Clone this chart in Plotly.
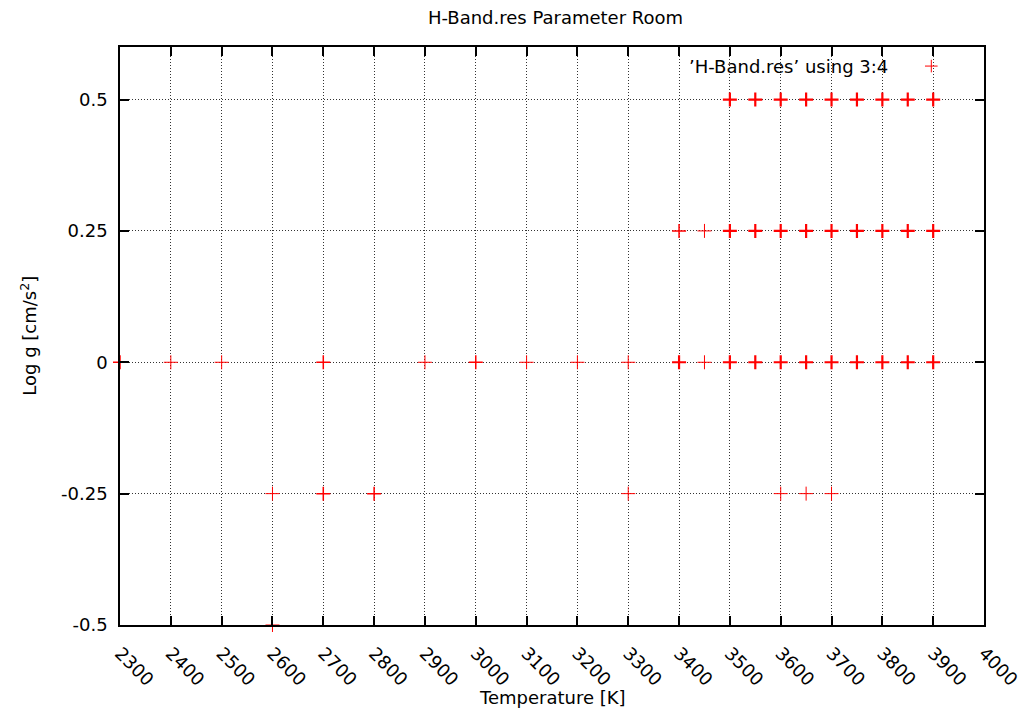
import plotly.graph_objects as go

# Model grid points: effective temperature [K] and surface gravity (log g)
temperature = [
    2300, 2400, 2500, 2700, 2900, 3000, 3100, 3200, 3300, 3400, 3450,
    3500, 3550, 3600, 3650, 3700, 3750, 3800, 3850, 3900,
    3400, 3450, 3500, 3550, 3600, 3650, 3700, 3750, 3800, 3850, 3900,
    3500, 3550, 3600, 3650, 3700, 3750, 3800, 3850, 3900,
    2600, 2700, 2800, 3300, 3600, 3650, 3700,
    2600,
]
log_g = [
    0, 0, 0, 0, 0, 0, 0, 0, 0, 0, 0,
    0, 0, 0, 0, 0, 0, 0, 0, 0,
    0.25, 0.25, 0.25, 0.25, 0.25, 0.25, 0.25, 0.25, 0.25, 0.25, 0.25,
    0.5, 0.5, 0.5, 0.5, 0.5, 0.5, 0.5, 0.5, 0.5,
    -0.25, -0.25, -0.25, -0.25, -0.25, -0.25, -0.25,
    -0.5,
]
# how many result rows fall on the same grid point (overplotted)
n_rows = [
    2, 1, 1, 2, 1, 2, 1, 1, 1, 3, 1,
    3, 3, 3, 3, 3, 3, 3, 3, 3,
    2, 1, 3, 3, 3, 3, 3, 3, 3, 3, 3,
    3, 3, 3, 3, 3, 3, 3, 3, 3,
    1, 2, 2, 1, 1, 1, 1,
    1,
]

x_ticks = list(range(2300, 4001, 100))
y_ticks = [-0.5, -0.25, 0, 0.25, 0.5]
y_ticklabels = ["-0.5", "-0.25", "0", "0.25", "0.5"]

series_name = "\u2019H-Band.res\u2019 using 3:4"
title_text = "H-Band.res Parameter Room"
x_title = "Temperature [K]"
y_title = "Log g [cm/s<sup>2</sup>]"

RED = "#ff0000"
FONT = "DejaVu Sans"
FS = 18
width_for_rows = {1: 1.0, 2: 1.5, 3: 2.2}

fig = go.Figure()

fig.add_trace(go.Scatter(
    x=temperature, y=log_g, mode="markers", name=series_name,
    cliponaxis=False, showlegend=False,
    marker=dict(symbol="cross-thin", size=10, color=RED,
                line=dict(color=RED, width=[width_for_rows[n] for n in n_rows])),
))

# key sample drawn on a hidden overlay axis in plot-fraction units
fig.add_trace(go.Scatter(
    x=[0.939], y=[0.967], mode="markers", xaxis="x2", yaxis="y2",
    showlegend=False, hoverinfo="skip",
    marker=dict(symbol="cross-thin", size=9, color=RED,
                line=dict(color=RED, width=1)),
))

axis_common = dict(
    showline=True, linecolor="black", linewidth=1.5, mirror="ticks",
    ticks="inside", ticklen=9, tickwidth=1.5, tickcolor="black",
    showgrid=True, gridcolor="#333333", gridwidth=1, griddash="1px,2px",
    zeroline=False, tickfont=dict(family=FONT, size=FS, color="black"),
)

fig.update_layout(
    width=1034, height=716,
    margin=dict(l=120, r=43, t=47, b=91),
    paper_bgcolor="white", plot_bgcolor="white",
    font=dict(family=FONT, size=FS, color="black"),
    title=dict(text=title_text, x=555.5 / 1034, xanchor="center",
               y=1 - 18 / 716, yanchor="middle", yref="container",
               font=dict(family=FONT, size=FS, color="black")),
    xaxis=dict(range=[2300, 4000], tickvals=x_ticks, tickangle=45,
               ticklabelstandoff=9, **axis_common),
    yaxis=dict(range=[-0.5, 0.6], tickvals=y_ticks, ticktext=y_ticklabels,
               ticklabelstandoff=7, **axis_common),
    xaxis2=dict(range=[0, 1], overlaying="x", visible=False, fixedrange=True),
    yaxis2=dict(range=[0, 1], overlaying="y", visible=False, fixedrange=True),
    shapes=[
        # key area keeps the grid clear behind the label
        dict(type="rect", xref="paper", yref="paper", x0=0.562, x1=0.999,
             y0=0.951, y1=0.999, fillcolor="white", line=dict(width=0),
             layer="between"),
    ],
    annotations=[
        dict(text=series_name, xref="paper", yref="paper",
             x=(896 - 120) / 871, y=0.967, xanchor="right", yanchor="middle",
             showarrow=False, font=dict(family=FONT, size=FS, color="black")),
        dict(text=x_title, xref="paper", yref="paper", x=0.5,
             y=-(697 - 625) / 578, xanchor="center", yanchor="middle",
             showarrow=False, font=dict(family=FONT, size=FS, color="black")),
        dict(text=y_title, xref="paper", yref="paper", x=(28 - 120) / 871,
             y=0.5, xanchor="center", yanchor="middle", textangle=-90,
             showarrow=False, font=dict(family=FONT, size=FS, color="black")),
    ],
)

fig.write_html("out.html")
